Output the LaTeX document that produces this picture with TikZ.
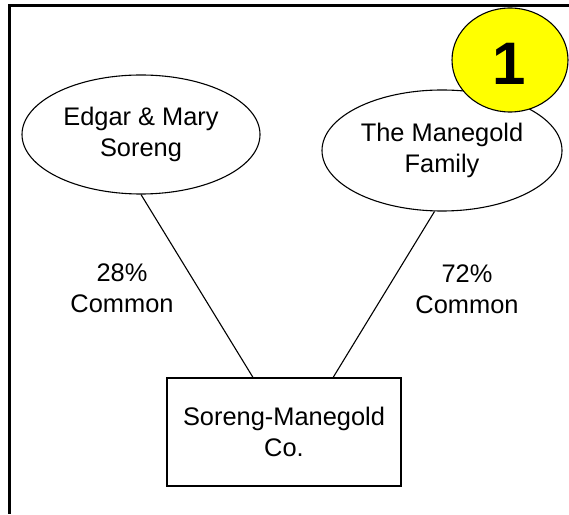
\documentclass[tikz,border=0pt]{standalone}
\usepackage{fontspec}
\setmainfont{Liberation Sans}
\usetikzlibrary{shapes.geometric,calc}
\definecolor{badgeyellow}{HTML}{FFFF00}
\begin{document}
\begin{tikzpicture}[x=1pt,y=1pt,
  txt/.style={font=\fontsize{25.4}{31}\selectfont, align=center, inner sep=0pt},
  owner/.style={ellipse, draw, line width=1.1pt, txt},
  company/.style={rectangle, draw, line width=1.3pt, txt},
  link/.style={line width=1.1pt},
  badge/.style={ellipse, draw, line width=1.1pt, fill=badgeyellow, inner sep=0pt},
  frame/.style={line width=3pt}]
\useasboundingbox (0,0) rectangle (569,514);
\draw[frame] (569,508.5) -- (9.5,508.5) -- (9.5,0);
\node[owner, minimum width=238pt, minimum height=119pt] (e1) at (141,379.5) {Edgar \& Mary\\Soreng};
\node[owner, minimum width=240pt, minimum height=121pt] (e2) at (442,363.5) {The Manegold\\Family};
\node[badge, minimum width=116pt, minimum height=104pt] (badge) at (510,454) {};
\node[inner sep=0pt, font=\fontsize{60}{60}\bfseries\selectfont] (one) at (509,450.5) {1};
\node[company, minimum width=234pt, minimum height=108pt] (box) at (284,82) {Soreng-Manegold\\Co.};
\node[txt] (l1) at (122,226) {28\%\\Common};
\node[txt] (l2) at (467,225) {72\%\\Common};
\draw[link] (e1.south) -- ($(box.north west)!0.368!(box.north east)$);
\draw[link] (e2.263) -- ($(box.north west)!0.709!(box.north east)$);
\end{tikzpicture}
\end{document}
